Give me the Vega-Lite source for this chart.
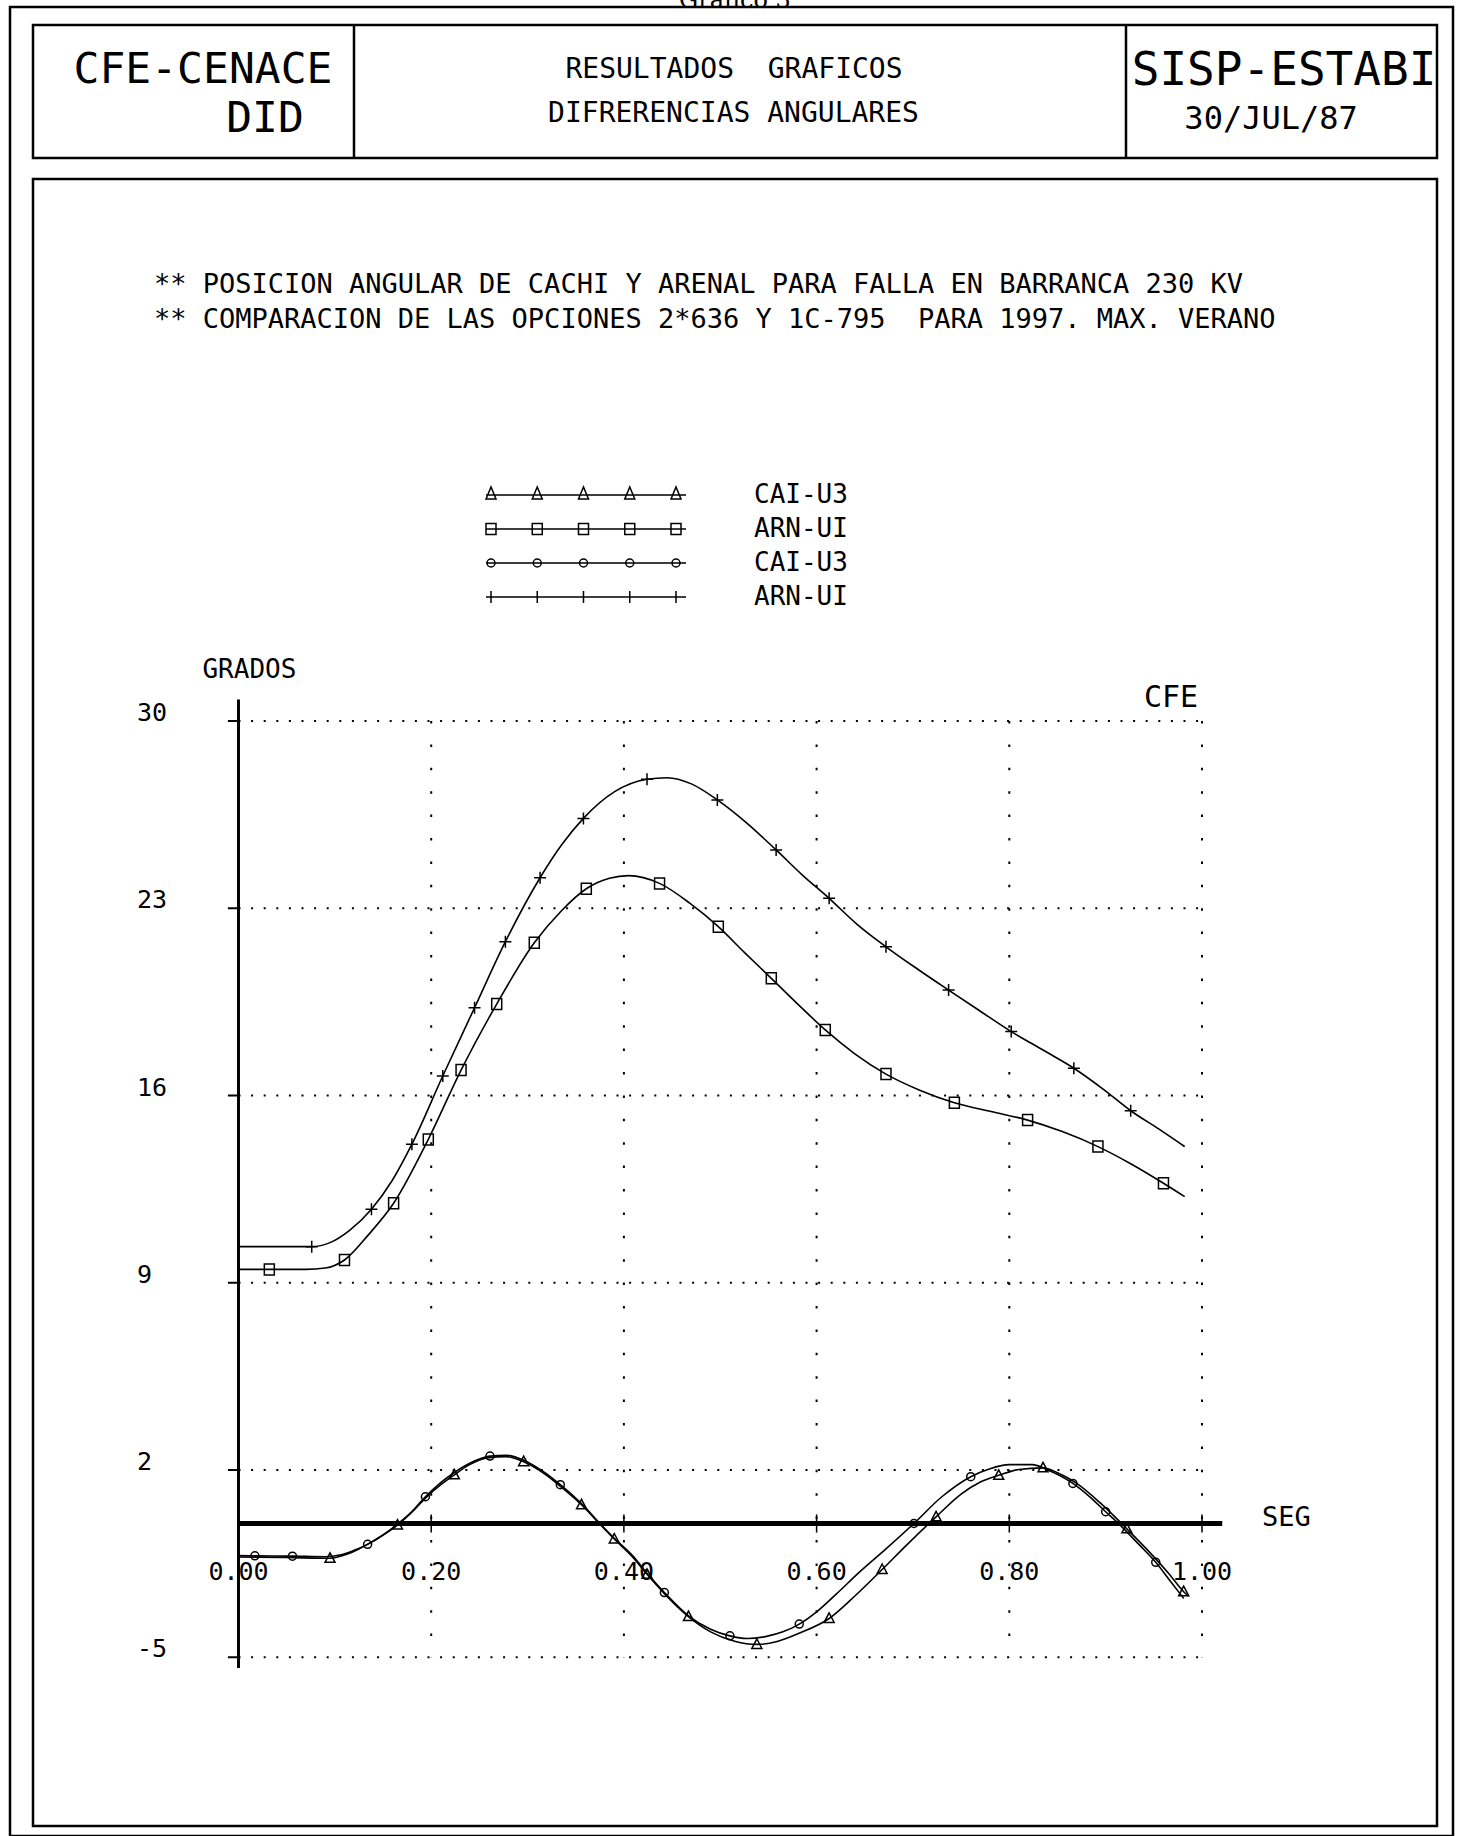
{
"$schema": "https://vega.github.io/schema/vega-lite/v6.json",
"background": "white",
"autosize": {"type": "none"},
"padding": {"left": 10, "top": 7, "right": 7, "bottom": 0},
"width": 1443,
"height": 1829,
"config": {
  "view": {"stroke": "black", "strokeWidth": 2.5},
  "text": {"font": "DejaVu Sans Mono", "color": "black"}
},
"datasets": {
  "ygrid": [{"g": 30, "lab": "30"}, {"g": 23, "lab": "23"}, {"g": 16, "lab": "16"}, {"g": 9, "lab": "9"}, {"g": 2, "lab": "2"}, {"g": -5, "lab": "-5"}],
  "xgrid": [{"g": 0.2}, {"g": 0.4}, {"g": 0.6}, {"g": 0.8}, {"g": 1.0}],
  "xlab": [{"g": 0, "lab": "0.00"}, {"g": 0.2, "lab": "0.20"}, {"g": 0.4, "lab": "0.40"}, {"g": 0.6, "lab": "0.60"}, {"g": 0.8, "lab": "0.80"}, {"g": 1.0, "lab": "1.00"}],
  "series": [
    {"s": "ARN-UI b", "t": 0.000, "v": 10.35, "m": 0},
    {"s": "ARN-UI b", "t": 0.040, "v": 10.35, "m": 0},
    {"s": "ARN-UI b", "t": 0.076, "v": 10.35, "m": 1},
    {"s": "ARN-UI b", "t": 0.095, "v": 10.50, "m": 0},
    {"s": "ARN-UI b", "t": 0.115, "v": 10.95, "m": 0},
    {"s": "ARN-UI b", "t": 0.138, "v": 11.75, "m": 1},
    {"s": "ARN-UI b", "t": 0.160, "v": 12.85, "m": 0},
    {"s": "ARN-UI b", "t": 0.180, "v": 14.18, "m": 1},
    {"s": "ARN-UI b", "t": 0.212, "v": 16.73, "m": 1},
    {"s": "ARN-UI b", "t": 0.245, "v": 19.28, "m": 1},
    {"s": "ARN-UI b", "t": 0.277, "v": 21.75, "m": 1},
    {"s": "ARN-UI b", "t": 0.313, "v": 24.14, "m": 1},
    {"s": "ARN-UI b", "t": 0.336, "v": 25.40, "m": 0},
    {"s": "ARN-UI b", "t": 0.358, "v": 26.36, "m": 1},
    {"s": "ARN-UI b", "t": 0.390, "v": 27.35, "m": 0},
    {"s": "ARN-UI b", "t": 0.424, "v": 27.82, "m": 1},
    {"s": "ARN-UI b", "t": 0.445, "v": 27.88, "m": 0},
    {"s": "ARN-UI b", "t": 0.470, "v": 27.65, "m": 0},
    {"s": "ARN-UI b", "t": 0.497, "v": 27.05, "m": 1},
    {"s": "ARN-UI b", "t": 0.527, "v": 26.20, "m": 0},
    {"s": "ARN-UI b", "t": 0.558, "v": 25.18, "m": 1},
    {"s": "ARN-UI b", "t": 0.585, "v": 24.25, "m": 0},
    {"s": "ARN-UI b", "t": 0.613, "v": 23.37, "m": 1},
    {"s": "ARN-UI b", "t": 0.642, "v": 22.40, "m": 0},
    {"s": "ARN-UI b", "t": 0.672, "v": 21.56, "m": 1},
    {"s": "ARN-UI b", "t": 0.705, "v": 20.72, "m": 0},
    {"s": "ARN-UI b", "t": 0.737, "v": 19.94, "m": 1},
    {"s": "ARN-UI b", "t": 0.770, "v": 19.15, "m": 0},
    {"s": "ARN-UI b", "t": 0.802, "v": 18.39, "m": 1},
    {"s": "ARN-UI b", "t": 0.835, "v": 17.70, "m": 0},
    {"s": "ARN-UI b", "t": 0.867, "v": 17.02, "m": 1},
    {"s": "ARN-UI b", "t": 0.897, "v": 16.25, "m": 0},
    {"s": "ARN-UI b", "t": 0.926, "v": 15.43, "m": 1},
    {"s": "ARN-UI b", "t": 0.955, "v": 14.75, "m": 0},
    {"s": "ARN-UI b", "t": 0.982, "v": 14.09, "m": 0},

    {"s": "ARN-UI a", "t": 0.000, "v": 9.50, "m": 0},
    {"s": "ARN-UI a", "t": 0.032, "v": 9.50, "m": 1},
    {"s": "ARN-UI a", "t": 0.070, "v": 9.50, "m": 0},
    {"s": "ARN-UI a", "t": 0.090, "v": 9.55, "m": 0},
    {"s": "ARN-UI a", "t": 0.110, "v": 9.85, "m": 1},
    {"s": "ARN-UI a", "t": 0.135, "v": 10.80, "m": 0},
    {"s": "ARN-UI a", "t": 0.161, "v": 11.97, "m": 1},
    {"s": "ARN-UI a", "t": 0.197, "v": 14.36, "m": 1},
    {"s": "ARN-UI a", "t": 0.231, "v": 16.95, "m": 1},
    {"s": "ARN-UI a", "t": 0.268, "v": 19.42, "m": 1},
    {"s": "ARN-UI a", "t": 0.307, "v": 21.71, "m": 1},
    {"s": "ARN-UI a", "t": 0.335, "v": 22.90, "m": 0},
    {"s": "ARN-UI a", "t": 0.361, "v": 23.73, "m": 1},
    {"s": "ARN-UI a", "t": 0.385, "v": 24.12, "m": 0},
    {"s": "ARN-UI a", "t": 0.405, "v": 24.22, "m": 0},
    {"s": "ARN-UI a", "t": 0.437, "v": 23.93, "m": 1},
    {"s": "ARN-UI a", "t": 0.468, "v": 23.20, "m": 0},
    {"s": "ARN-UI a", "t": 0.498, "v": 22.31, "m": 1},
    {"s": "ARN-UI a", "t": 0.525, "v": 21.35, "m": 0},
    {"s": "ARN-UI a", "t": 0.553, "v": 20.38, "m": 1},
    {"s": "ARN-UI a", "t": 0.581, "v": 19.40, "m": 0},
    {"s": "ARN-UI a", "t": 0.609, "v": 18.45, "m": 1},
    {"s": "ARN-UI a", "t": 0.640, "v": 17.55, "m": 0},
    {"s": "ARN-UI a", "t": 0.672, "v": 16.80, "m": 1},
    {"s": "ARN-UI a", "t": 0.707, "v": 16.20, "m": 0},
    {"s": "ARN-UI a", "t": 0.743, "v": 15.73, "m": 1},
    {"s": "ARN-UI a", "t": 0.781, "v": 15.40, "m": 0},
    {"s": "ARN-UI a", "t": 0.819, "v": 15.08, "m": 1},
    {"s": "ARN-UI a", "t": 0.855, "v": 14.65, "m": 0},
    {"s": "ARN-UI a", "t": 0.892, "v": 14.09, "m": 1},
    {"s": "ARN-UI a", "t": 0.926, "v": 13.45, "m": 0},
    {"s": "ARN-UI a", "t": 0.960, "v": 12.72, "m": 1},
    {"s": "ARN-UI a", "t": 0.982, "v": 12.22, "m": 0},

    {"s": "CAI-U3 b", "t": 0.000, "v": -1.20, "m": 0},
    {"s": "CAI-U3 b", "t": 0.017, "v": -1.21, "m": 1},
    {"s": "CAI-U3 b", "t": 0.056, "v": -1.22, "m": 1},
    {"s": "CAI-U3 b", "t": 0.090, "v": -1.24, "m": 0},
    {"s": "CAI-U3 b", "t": 0.105, "v": -1.18, "m": 0},
    {"s": "CAI-U3 b", "t": 0.120, "v": -1.00, "m": 0},
    {"s": "CAI-U3 b", "t": 0.134, "v": -0.78, "m": 1},
    {"s": "CAI-U3 b", "t": 0.150, "v": -0.43, "m": 0},
    {"s": "CAI-U3 b", "t": 0.164, "v": -0.05, "m": 0},
    {"s": "CAI-U3 b", "t": 0.180, "v": 0.45, "m": 0},
    {"s": "CAI-U3 b", "t": 0.194, "v": 1.00, "m": 1},
    {"s": "CAI-U3 b", "t": 0.209, "v": 1.50, "m": 0},
    {"s": "CAI-U3 b", "t": 0.223, "v": 1.88, "m": 0},
    {"s": "CAI-U3 b", "t": 0.240, "v": 2.25, "m": 0},
    {"s": "CAI-U3 b", "t": 0.261, "v": 2.52, "m": 1},
    {"s": "CAI-U3 b", "t": 0.278, "v": 2.55, "m": 0},
    {"s": "CAI-U3 b", "t": 0.297, "v": 2.35, "m": 0},
    {"s": "CAI-U3 b", "t": 0.318, "v": 1.90, "m": 0},
    {"s": "CAI-U3 b", "t": 0.334, "v": 1.45, "m": 1},
    {"s": "CAI-U3 b", "t": 0.359, "v": 0.63, "m": 0},
    {"s": "CAI-U3 b", "t": 0.375, "v": 0.00, "m": 0},
    {"s": "CAI-U3 b", "t": 0.390, "v": -0.55, "m": 0},
    {"s": "CAI-U3 b", "t": 0.409, "v": -1.20, "m": 0},
    {"s": "CAI-U3 b", "t": 0.425, "v": -1.90, "m": 0},
    {"s": "CAI-U3 b", "t": 0.442, "v": -2.58, "m": 1},
    {"s": "CAI-U3 b", "t": 0.467, "v": -3.45, "m": 0},
    {"s": "CAI-U3 b", "t": 0.490, "v": -3.95, "m": 0},
    {"s": "CAI-U3 b", "t": 0.510, "v": -4.20, "m": 1},
    {"s": "CAI-U3 b", "t": 0.528, "v": -4.30, "m": 0},
    {"s": "CAI-U3 b", "t": 0.548, "v": -4.22, "m": 0},
    {"s": "CAI-U3 b", "t": 0.565, "v": -4.05, "m": 0},
    {"s": "CAI-U3 b", "t": 0.582, "v": -3.76, "m": 1},
    {"s": "CAI-U3 b", "t": 0.600, "v": -3.30, "m": 0},
    {"s": "CAI-U3 b", "t": 0.620, "v": -2.65, "m": 0},
    {"s": "CAI-U3 b", "t": 0.645, "v": -1.80, "m": 0},
    {"s": "CAI-U3 b", "t": 0.672, "v": -0.95, "m": 0},
    {"s": "CAI-U3 b", "t": 0.701, "v": 0.00, "m": 1},
    {"s": "CAI-U3 b", "t": 0.730, "v": 1.00, "m": 0},
    {"s": "CAI-U3 b", "t": 0.760, "v": 1.75, "m": 1},
    {"s": "CAI-U3 b", "t": 0.780, "v": 2.05, "m": 0},
    {"s": "CAI-U3 b", "t": 0.800, "v": 2.20, "m": 0},
    {"s": "CAI-U3 b", "t": 0.824, "v": 2.20, "m": 0},
    {"s": "CAI-U3 b", "t": 0.840, "v": 2.00, "m": 0},
    {"s": "CAI-U3 b", "t": 0.866, "v": 1.50, "m": 1},
    {"s": "CAI-U3 b", "t": 0.885, "v": 0.95, "m": 0},
    {"s": "CAI-U3 b", "t": 0.900, "v": 0.44, "m": 1},
    {"s": "CAI-U3 b", "t": 0.915, "v": -0.06, "m": 0},
    {"s": "CAI-U3 b", "t": 0.935, "v": -0.80, "m": 0},
    {"s": "CAI-U3 b", "t": 0.952, "v": -1.45, "m": 1},
    {"s": "CAI-U3 b", "t": 0.966, "v": -2.10, "m": 0},
    {"s": "CAI-U3 b", "t": 0.981, "v": -2.80, "m": 0},

    {"s": "CAI-U3 a", "t": 0.000, "v": -1.25, "m": 0},
    {"s": "CAI-U3 a", "t": 0.050, "v": -1.27, "m": 0},
    {"s": "CAI-U3 a", "t": 0.095, "v": -1.30, "m": 1},
    {"s": "CAI-U3 a", "t": 0.110, "v": -1.18, "m": 0},
    {"s": "CAI-U3 a", "t": 0.125, "v": -0.95, "m": 0},
    {"s": "CAI-U3 a", "t": 0.140, "v": -0.65, "m": 0},
    {"s": "CAI-U3 a", "t": 0.165, "v": -0.06, "m": 1},
    {"s": "CAI-U3 a", "t": 0.180, "v": 0.42, "m": 0},
    {"s": "CAI-U3 a", "t": 0.194, "v": 0.95, "m": 0},
    {"s": "CAI-U3 a", "t": 0.210, "v": 1.45, "m": 0},
    {"s": "CAI-U3 a", "t": 0.224, "v": 1.82, "m": 1},
    {"s": "CAI-U3 a", "t": 0.240, "v": 2.20, "m": 0},
    {"s": "CAI-U3 a", "t": 0.258, "v": 2.45, "m": 0},
    {"s": "CAI-U3 a", "t": 0.278, "v": 2.50, "m": 0},
    {"s": "CAI-U3 a", "t": 0.296, "v": 2.31, "m": 1},
    {"s": "CAI-U3 a", "t": 0.318, "v": 1.85, "m": 0},
    {"s": "CAI-U3 a", "t": 0.337, "v": 1.30, "m": 0},
    {"s": "CAI-U3 a", "t": 0.356, "v": 0.70, "m": 1},
    {"s": "CAI-U3 a", "t": 0.375, "v": -0.02, "m": 0},
    {"s": "CAI-U3 a", "t": 0.390, "v": -0.58, "m": 1},
    {"s": "CAI-U3 a", "t": 0.409, "v": -1.25, "m": 0},
    {"s": "CAI-U3 a", "t": 0.424, "v": -1.90, "m": 1},
    {"s": "CAI-U3 a", "t": 0.442, "v": -2.62, "m": 0},
    {"s": "CAI-U3 a", "t": 0.467, "v": -3.48, "m": 1},
    {"s": "CAI-U3 a", "t": 0.490, "v": -4.05, "m": 0},
    {"s": "CAI-U3 a", "t": 0.515, "v": -4.40, "m": 0},
    {"s": "CAI-U3 a", "t": 0.538, "v": -4.52, "m": 1},
    {"s": "CAI-U3 a", "t": 0.560, "v": -4.40, "m": 0},
    {"s": "CAI-U3 a", "t": 0.582, "v": -4.10, "m": 0},
    {"s": "CAI-U3 a", "t": 0.613, "v": -3.55, "m": 1},
    {"s": "CAI-U3 a", "t": 0.640, "v": -2.70, "m": 0},
    {"s": "CAI-U3 a", "t": 0.668, "v": -1.72, "m": 1},
    {"s": "CAI-U3 a", "t": 0.695, "v": -0.75, "m": 0},
    {"s": "CAI-U3 a", "t": 0.724, "v": 0.25, "m": 1},
    {"s": "CAI-U3 a", "t": 0.750, "v": 1.10, "m": 0},
    {"s": "CAI-U3 a", "t": 0.770, "v": 1.55, "m": 0},
    {"s": "CAI-U3 a", "t": 0.789, "v": 1.80, "m": 1},
    {"s": "CAI-U3 a", "t": 0.810, "v": 2.02, "m": 0},
    {"s": "CAI-U3 a", "t": 0.835, "v": 2.08, "m": 1},
    {"s": "CAI-U3 a", "t": 0.850, "v": 1.90, "m": 0},
    {"s": "CAI-U3 a", "t": 0.870, "v": 1.50, "m": 0},
    {"s": "CAI-U3 a", "t": 0.895, "v": 0.75, "m": 0},
    {"s": "CAI-U3 a", "t": 0.922, "v": -0.20, "m": 1},
    {"s": "CAI-U3 a", "t": 0.945, "v": -1.05, "m": 0},
    {"s": "CAI-U3 a", "t": 0.965, "v": -1.85, "m": 0},
    {"s": "CAI-U3 a", "t": 0.981, "v": -2.55, "m": 1},
    {"s": "CAI-U3 a", "t": 0.986, "v": -2.72, "m": 0}
  ]
},
"resolve": {"scale": {"shape": "independent"}},
"layer": [
  {"data": {"values": [{}]}, "mark": {"type": "rect", "filled": false, "color": "black", "strokeWidth": 2.5},
   "encoding": {"x": {"datum": -0.21329, "type": "quantitative", "scale": {"domain": [-0.23715, 1.26051], "nice": false, "zero": false}, "axis": null}, "x2": {"datum": 1.2439},
                "y": {"datum": 56.019, "type": "quantitative", "scale": {"domain": [-11.682, 56.692], "nice": false, "zero": false}, "axis": null}, "y2": {"datum": 51.047}}},
  {"data": {"values": [{"edge": 0.11988}, {"edge": 0.92112}]}, "mark": {"type": "rule", "color": "black", "strokeWidth": 2.5},
   "encoding": {"x": {"field": "edge", "type": "quantitative", "scale": {"domain": [-0.23715, 1.26051], "nice": false, "zero": false}, "axis": null},
                "y": {"datum": 56.019, "type": "quantitative", "scale": {"domain": [-11.682, 56.692], "nice": false, "zero": false}, "axis": null}, "y2": {"datum": 51.047}}},
  {"data": {"values": [{}]}, "mark": {"type": "rect", "filled": false, "color": "black", "strokeWidth": 2.5},
   "encoding": {"x": {"datum": -0.21329, "type": "quantitative", "scale": {"domain": [-0.23715, 1.26051], "nice": false, "zero": false}, "axis": null}, "x2": {"datum": 1.2439},
                "y": {"datum": 50.262, "type": "quantitative", "scale": {"domain": [-11.682, 56.692], "nice": false, "zero": false}, "axis": null}, "y2": {"datum": -11.308}}},

  {"data": {"values": [{"txt": "Grafico 3"}]}, "mark": {"type": "text", "align": "center", "baseline": "alphabetic", "fontSize": 24, "font": "DejaVu Serif"},
   "encoding": {"x": {"datum": 0.5153, "type": "quantitative", "scale": {"domain": [-0.23715, 1.26051], "nice": false, "zero": false}, "axis": null}, "y": {"datum": 56.66, "type": "quantitative", "scale": {"domain": [-11.682, 56.692], "nice": false, "zero": false}, "axis": null}, "text": {"field": "txt", "type": "nominal"}}},
  {"data": {"values": [{"txt": "CFE-CENACE"}]}, "mark": {"type": "text", "align": "center", "baseline": "middle", "fontSize": 43},
   "encoding": {"x": {"datum": -0.03684, "type": "quantitative", "scale": {"domain": [-0.23715, 1.26051], "nice": false, "zero": false}, "axis": null}, "y": {"datum": 54.336, "type": "quantitative", "scale": {"domain": [-11.682, 56.692], "nice": false, "zero": false}, "axis": null}, "text": {"field": "txt", "type": "nominal"}}},
  {"data": {"values": [{"txt": "DID"}]}, "mark": {"type": "text", "align": "center", "baseline": "middle", "fontSize": 43},
   "encoding": {"x": {"datum": 0.0275, "type": "quantitative", "scale": {"domain": [-0.23715, 1.26051], "nice": false, "zero": false}, "axis": null}, "y": {"datum": 52.505, "type": "quantitative", "scale": {"domain": [-11.682, 56.692], "nice": false, "zero": false}, "axis": null}, "text": {"field": "txt", "type": "nominal"}}},
  {"data": {"values": [{"txt": "RESULTADOS \u00a0GRAFICOS"}]}, "mark": {"type": "text", "align": "center", "baseline": "middle", "fontSize": 28},
   "encoding": {"x": {"datum": 0.51427, "type": "quantitative", "scale": {"domain": [-0.23715, 1.26051], "nice": false, "zero": false}, "axis": null}, "y": {"datum": 54.336, "type": "quantitative", "scale": {"domain": [-11.682, 56.692], "nice": false, "zero": false}, "axis": null}, "text": {"field": "txt", "type": "nominal"}}},
  {"data": {"values": [{"txt": "DIFRERENCIAS ANGULARES"}]}, "mark": {"type": "text", "align": "center", "baseline": "middle", "fontSize": 28},
   "encoding": {"x": {"datum": 0.51375, "type": "quantitative", "scale": {"domain": [-0.23715, 1.26051], "nice": false, "zero": false}, "axis": null}, "y": {"datum": 52.707, "type": "quantitative", "scale": {"domain": [-11.682, 56.692], "nice": false, "zero": false}, "axis": null}, "text": {"field": "txt", "type": "nominal"}}},
  {"data": {"values": [{"txt": "SISP-ESTABI"}]}, "mark": {"type": "text", "align": "center", "baseline": "middle", "fontSize": 46},
   "encoding": {"x": {"datum": 1.08515, "type": "quantitative", "scale": {"domain": [-0.23715, 1.26051], "nice": false, "zero": false}, "axis": null}, "y": {"datum": 54.299, "type": "quantitative", "scale": {"domain": [-11.682, 56.692], "nice": false, "zero": false}, "axis": null}, "text": {"field": "txt", "type": "nominal"}}},
  {"data": {"values": [{"txt": "30/JUL/87"}]}, "mark": {"type": "text", "align": "center", "baseline": "middle", "fontSize": 32},
   "encoding": {"x": {"datum": 1.07167, "type": "quantitative", "scale": {"domain": [-0.23715, 1.26051], "nice": false, "zero": false}, "axis": null}, "y": {"datum": 52.505, "type": "quantitative", "scale": {"domain": [-11.682, 56.692], "nice": false, "zero": false}, "axis": null}, "text": {"field": "txt", "type": "nominal"}}},

  {"data": {"name": "ygrid"}, "mark": {"type": "rule", "color": "black", "strokeWidth": 2, "strokeDash": [2, 10.6]},
   "encoding": {"y": {"field": "g", "type": "quantitative", "scale": {"domain": [-11.682, 56.692], "nice": false, "zero": false}, "axis": null}, "x": {"datum": 0, "type": "quantitative", "scale": {"domain": [-0.23715, 1.26051], "nice": false, "zero": false}, "axis": null}, "x2": {"datum": 1.0}}},
  {"data": {"name": "ygrid"}, "mark": {"type": "rule", "color": "black", "strokeWidth": 2},
   "encoding": {"y": {"field": "g", "type": "quantitative", "scale": {"domain": [-11.682, 56.692], "nice": false, "zero": false}, "axis": null}, "x": {"datum": -0.011, "type": "quantitative", "scale": {"domain": [-0.23715, 1.26051], "nice": false, "zero": false}, "axis": null}, "x2": {"datum": 0}}},
  {"data": {"name": "xgrid"}, "mark": {"type": "rule", "color": "black", "strokeWidth": 2, "strokeDash": [2.5, 20.9]},
   "encoding": {"x": {"field": "g", "type": "quantitative", "scale": {"domain": [-0.23715, 1.26051], "nice": false, "zero": false}, "axis": null}, "y": {"datum": 30, "type": "quantitative", "scale": {"domain": [-11.682, 56.692], "nice": false, "zero": false}, "axis": null}, "y2": {"datum": -5}}},
  {"data": {"name": "xgrid"}, "mark": {"type": "rule", "color": "black", "strokeWidth": 1.5},
   "encoding": {"x": {"field": "g", "type": "quantitative", "scale": {"domain": [-0.23715, 1.26051], "nice": false, "zero": false}, "axis": null}, "y": {"datum": 0.34, "type": "quantitative", "scale": {"domain": [-11.682, 56.692], "nice": false, "zero": false}, "axis": null}, "y2": {"datum": -0.34}}},
  {"data": {"values": [{}]}, "mark": {"type": "rule", "color": "black", "strokeWidth": 3},
   "encoding": {"x": {"datum": 0, "type": "quantitative", "scale": {"domain": [-0.23715, 1.26051], "nice": false, "zero": false}, "axis": null}, "y": {"datum": 30.8, "type": "quantitative", "scale": {"domain": [-11.682, 56.692], "nice": false, "zero": false}, "axis": null}, "y2": {"datum": -5.4}}},
  {"data": {"values": [{}]}, "mark": {"type": "rule", "color": "black", "strokeWidth": 5},
   "encoding": {"x": {"datum": 0, "type": "quantitative", "scale": {"domain": [-0.23715, 1.26051], "nice": false, "zero": false}, "axis": null}, "x2": {"datum": 1.021}, "y": {"datum": 0, "type": "quantitative", "scale": {"domain": [-11.682, 56.692], "nice": false, "zero": false}, "axis": null}}},

  {"data": {"name": "ygrid"}, "mark": {"type": "text", "align": "left", "baseline": "alphabetic", "fontSize": 25},
   "encoding": {"y": {"field": "g", "type": "quantitative", "scale": {"domain": [-11.682, 56.692], "nice": false, "zero": false}, "axis": null}, "x": {"datum": -0.1053, "type": "quantitative", "scale": {"domain": [-0.23715, 1.26051], "nice": false, "zero": false}, "axis": null}, "text": {"field": "lab", "type": "nominal"}}},
  {"data": {"name": "xlab"}, "mark": {"type": "text", "align": "center", "baseline": "alphabetic", "fontSize": 25},
   "encoding": {"x": {"field": "g", "type": "quantitative", "scale": {"domain": [-0.23715, 1.26051], "nice": false, "zero": false}, "axis": null}, "y": {"datum": -2.1, "type": "quantitative", "scale": {"domain": [-11.682, 56.692], "nice": false, "zero": false}, "axis": null}, "text": {"field": "lab", "type": "nominal"}}},
  {"data": {"values": [{"txt": "GRADOS"}]}, "mark": {"type": "text", "align": "left", "baseline": "alphabetic", "fontSize": 26},
   "encoding": {"x": {"datum": -0.0374, "type": "quantitative", "scale": {"domain": [-0.23715, 1.26051], "nice": false, "zero": false}, "axis": null}, "y": {"datum": 31.6, "type": "quantitative", "scale": {"domain": [-11.682, 56.692], "nice": false, "zero": false}, "axis": null}, "text": {"field": "txt", "type": "nominal"}}},
  {"data": {"values": [{"txt": "CFE"}]}, "mark": {"type": "text", "align": "left", "baseline": "alphabetic", "fontSize": 30},
   "encoding": {"x": {"datum": 0.9398, "type": "quantitative", "scale": {"domain": [-0.23715, 1.26051], "nice": false, "zero": false}, "axis": null}, "y": {"datum": 30.52, "type": "quantitative", "scale": {"domain": [-11.682, 56.692], "nice": false, "zero": false}, "axis": null}, "text": {"field": "txt", "type": "nominal"}}},
  {"data": {"values": [{"txt": "SEG"}]}, "mark": {"type": "text", "align": "left", "baseline": "alphabetic", "fontSize": 27},
   "encoding": {"x": {"datum": 1.0623, "type": "quantitative", "scale": {"domain": [-0.23715, 1.26051], "nice": false, "zero": false}, "axis": null}, "y": {"datum": -0.09, "type": "quantitative", "scale": {"domain": [-11.682, 56.692], "nice": false, "zero": false}, "axis": null}, "text": {"field": "txt", "type": "nominal"}}},
  {"data": {"values": [{"txt": "** POSICION ANGULAR DE CACHI Y ARENAL PARA FALLA EN BARRANCA 230 KV"}]}, "mark": {"type": "text", "align": "left", "baseline": "alphabetic", "fontSize": 27},
   "encoding": {"x": {"datum": -0.0877, "type": "quantitative", "scale": {"domain": [-0.23715, 1.26051], "nice": false, "zero": false}, "axis": null}, "y": {"datum": 46.0, "type": "quantitative", "scale": {"domain": [-11.682, 56.692], "nice": false, "zero": false}, "axis": null}, "text": {"field": "txt", "type": "nominal"}}},
  {"data": {"values": [{"txt": "** COMPARACION DE LAS OPCIONES 2*636 Y 1C-795 \u00a0PARA 1997. MAX. VERANO"}]}, "mark": {"type": "text", "align": "left", "baseline": "alphabetic", "fontSize": 27},
   "encoding": {"x": {"datum": -0.0877, "type": "quantitative", "scale": {"domain": [-0.23715, 1.26051], "nice": false, "zero": false}, "axis": null}, "y": {"datum": 44.7, "type": "quantitative", "scale": {"domain": [-11.682, 56.692], "nice": false, "zero": false}, "axis": null}, "text": {"field": "txt", "type": "nominal"}}},

  {"data": {"name": "series"}, "mark": {"type": "line", "color": "black", "strokeWidth": 1.6, "interpolate": "monotone"},
   "encoding": {"x": {"field": "t", "type": "quantitative", "scale": {"domain": [-0.23715, 1.26051], "nice": false, "zero": false}, "axis": null}, "y": {"field": "v", "type": "quantitative", "scale": {"domain": [-11.682, 56.692], "nice": false, "zero": false}, "axis": null}, "detail": {"field": "s", "type": "nominal"}}},
  {"data": {"name": "series"}, "transform": [{"filter": "datum.m == 1"}],
   "mark": {"type": "point", "filled": false, "color": "black", "strokeWidth": 1.5, "opacity": 1, "size": 100},
   "encoding": {"x": {"field": "t", "type": "quantitative", "scale": {"domain": [-0.23715, 1.26051], "nice": false, "zero": false}, "axis": null}, "y": {"field": "v", "type": "quantitative", "scale": {"domain": [-11.682, 56.692], "nice": false, "zero": false}, "axis": null},
     "shape": {"field": "s", "type": "nominal", "legend": null,
       "scale": {"domain": ["CAI-U3 a", "ARN-UI a", "CAI-U3 b", "ARN-UI b"],
                 "range": ["M-1,0.8L0,-1.1L1,0.8Z", "M-1,-1.1H1V1.1H-1Z", "M-0.8,0A0.8,0.8,0,1,0,0.8,0A0.8,0.8,0,1,0,-0.8,0Z", "M-1.2,0H1.2M0,-1.2V1.2"]}}}},
  {"data": {"values": []},
   "mark": {"type": "point", "filled": false, "color": "black", "strokeWidth": 1.5, "opacity": 1, "size": 100},
   "encoding": {
     "shape": {"field": "s", "type": "nominal",
       "scale": {"domain": ["CAI-U3 a", "ARN-UI a", "CAI-U3 b", "ARN-UI b"],
                 "range": [
                   "M-20,0H20M-20,0.8L-19,-1.6L-18,0.8ZM-10.75,0.8L-9.75,-1.6L-8.75,0.8ZM-1.5,0.8L-0.5,-1.6L0.5,0.8ZM7.75,0.8L8.75,-1.6L9.75,0.8ZM17,0.8L18,-1.6L19,0.8Z",
                   "M-20,0H20M-20,-1.1H-18V1.1H-20ZM-10.75,-1.1H-8.75V1.1H-10.75ZM-1.5,-1.1H0.5V1.1H-1.5ZM7.75,-1.1H9.75V1.1H7.75ZM17,-1.1H19V1.1H17Z",
                   "M-20,0H20M-19.8,0A0.8,0.8,0,1,0,-18.2,0A0.8,0.8,0,1,0,-19.8,0ZM-10.55,0A0.8,0.8,0,1,0,-8.95,0A0.8,0.8,0,1,0,-10.55,0ZM-1.3,0A0.8,0.8,0,1,0,0.3,0A0.8,0.8,0,1,0,-1.3,0ZM7.95,0A0.8,0.8,0,1,0,9.55,0A0.8,0.8,0,1,0,7.95,0ZM17.2,0A0.8,0.8,0,1,0,18.8,0A0.8,0.8,0,1,0,17.2,0Z",
                   "M-20,0H20M-19,-1.2V1.2M-9.75,-1.2V1.2M-0.5,-1.2V1.2M8.75,-1.2V1.2M18,-1.2V1.2"
                 ]},
       "legend": {"orient": "none", "legendX": 563, "legendY": 475, "title": null, "padding": 0,
                  "labelExpr": "substring(datum.label, 0, 6)", "labelFont": "DejaVu Sans Mono", "labelFontSize": 26, "labelColor": "black",
                  "labelOffset": 155, "labelLimit": 300, "rowPadding": 8, "symbolSize": 100, "symbolStrokeWidth": 1.5,
                  "symbolStrokeColor": "black", "symbolFillColor": "transparent"}}}}
]
}
